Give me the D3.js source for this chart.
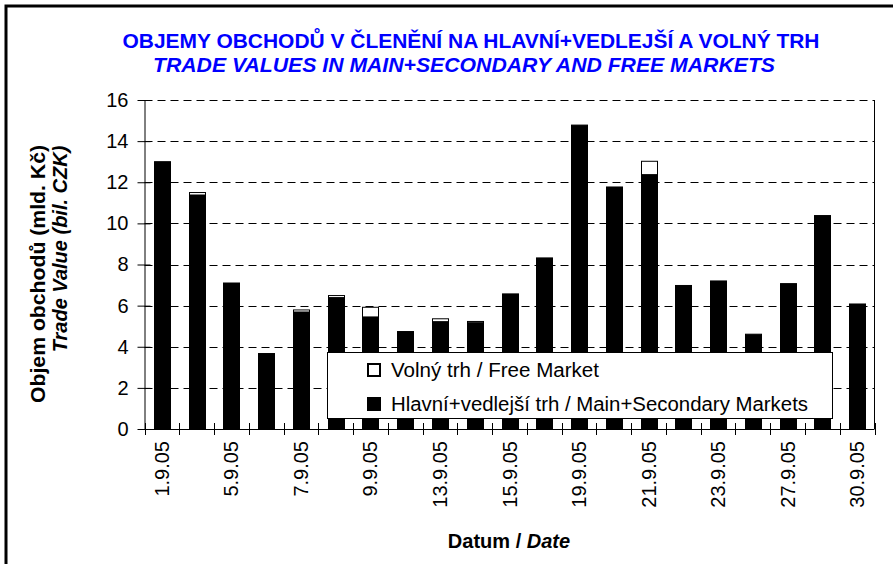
<!DOCTYPE html>
<html><head><meta charset="utf-8">
<script src="https://cdn.jsdelivr.net/npm/d3@7"></script>
<style>body{margin:0;background:#fff}svg{display:block;font-family:Arial,"Liberation Sans",sans-serif}</style>
</head><body><svg id="c" width="893" height="564"></svg>
<script>
const dates = ["1.9.05","2.9.05","5.9.05","6.9.05","7.9.05","8.9.05","9.9.05","12.9.05","13.9.05","14.9.05","15.9.05","16.9.05","19.9.05","20.9.05","21.9.05","22.9.05","23.9.05","26.9.05","27.9.05","29.9.05","30.9.05"];
const mainMarket = [13.0,11.38,7.1,3.67,5.69,6.39,5.45,4.74,5.22,5.17,6.57,8.32,14.78,11.77,12.37,6.98,7.2,4.61,7.07,10.38,6.04];
const freeMarket = [0,0.12,0,0,0.1,0.1,0.47,0,0.14,0.06,0,0,0,0,0.65,0,0,0,0,0,0.04];
const yTicks = [0,2,4,6,8,10,12,14,16];
const shownLabels = ["1.9.05","5.9.05","7.9.05","9.9.05","13.9.05","15.9.05","19.9.05","21.9.05","23.9.05","27.9.05","30.9.05"];
const seriesNames = ["Volný trh / Free Market","Hlavní+vedlejší trh / Main+Secondary Markets"];

const svg = d3.select("#c");
svg.append("rect").attr("x",6).attr("y",6).attr("width",1000).attr("height",1000)
  .attr("fill","#fff").attr("stroke","#000").attr("stroke-width",3);

const L=144.5, R=874.5, T=100, B=429;
const x = d3.scaleBand().domain(dates).range([L,R]).paddingInner(0.54).paddingOuter(0.27);
const y = d3.scaleLinear().domain([0,16]).range([B,T]);

// grid
svg.append("g").selectAll("line").data(yTicks.filter(d=>d>0)).join("line")
  .attr("x1",L).attr("x2",R).attr("y1",d=>Math.round(y(d))+0.5).attr("y2",d=>Math.round(y(d))+0.5)
  .attr("stroke","#000").attr("stroke-dasharray","8,5").attr("stroke-width",1);

// bars
const g = svg.append("g");
dates.forEach((d,i)=>{
  const x0 = Math.round(x(d))+0.5, w = Math.round(x.bandwidth());
  g.append("rect").attr("x",x0).attr("y",y(mainMarket[i])).attr("width",w)
   .attr("height",y(0)-y(mainMarket[i])).attr("fill","#000").attr("stroke","#000");
  if(freeMarket[i]>0){
    const top = y(mainMarket[i]+freeMarket[i]);
    g.append("rect").attr("x",x0).attr("y",top).attr("width",w)
     .attr("height",y(mainMarket[i])-top).attr("fill","#fff").attr("stroke","#000");
  }
});

// right border
svg.append("line").attr("x1",R).attr("x2",R).attr("y1",T).attr("y2",B).attr("stroke","#000");

// y axis
const ya = svg.append("g").attr("transform",`translate(${L},0)`)
  .call(d3.axisLeft(y).tickValues(yTicks).tickSize(7).tickSizeOuter(0).tickPadding(9));
ya.select(".domain").attr("stroke","#000");
ya.selectAll(".tick line").attr("x2",-7).attr("x1",6).attr("stroke","#000");
ya.selectAll(".tick text").attr("font-size",20).attr("font-family","Arial,'Liberation Sans',sans-serif").attr("fill","#000");

// x axis
const xa = svg.append("g").attr("transform",`translate(0,${B})`);
xa.append("line").attr("x1",L).attr("x2",R).attr("y1",0.5).attr("y2",0.5).attr("stroke","#000");
const step = x.step();
xa.selectAll("line.t").data(d3.range(dates.length+1)).join("line").attr("class","t")
  .attr("x1",i=>Math.round(L+i*step)+0.5).attr("x2",i=>Math.round(L+i*step)+0.5)
  .attr("y1",-6).attr("y2",6).attr("stroke","#000");
xa.selectAll("text").data(shownLabels).join("text")
  .attr("transform",d=>`translate(${x(d)+x.bandwidth()/2+7},12) rotate(-90)`)
  .attr("text-anchor","end").attr("font-size",20).text(d=>d);

// titles
svg.append("text").attr("x",471).attr("y",48).attr("text-anchor","middle").attr("font-size",20)
  .attr("font-weight","bold").attr("fill","#0000ff").attr("textLength",697).attr("lengthAdjust","spacingAndGlyphs")
  .text("OBJEMY OBCHODŮ V ČLENĚNÍ NA HLAVNÍ+VEDLEJŠÍ A VOLNÝ TRH");
svg.append("text").attr("x",464).attr("y",72).attr("text-anchor","middle").attr("font-size",20)
  .attr("font-weight","bold").attr("font-style","italic").attr("fill","#0000ff").attr("textLength",622).attr("lengthAdjust","spacingAndGlyphs")
  .text("TRADE VALUES IN MAIN+SECONDARY AND FREE MARKETS");

const xt = svg.append("text").attr("x",509).attr("y",548).attr("text-anchor","middle").attr("font-size",20).attr("font-weight","bold");
xt.append("tspan").text("Datum / ");
xt.append("tspan").attr("font-style","italic").text("Date");

svg.append("text").attr("transform","translate(45,274) rotate(-90)").attr("text-anchor","middle")
  .attr("font-size",20).attr("font-weight","bold").attr("textLength",258).attr("lengthAdjust","spacingAndGlyphs")
  .text("Objem obchodů (mld. Kč)");
svg.append("text").attr("transform","translate(67,249) rotate(-90)").attr("text-anchor","middle")
  .attr("font-size",20).attr("font-weight","bold").attr("font-style","italic").text("Trade Value (bil. CZK)");

// legend
const lg = svg.append("g");
lg.append("rect").attr("x",327.5).attr("y",352.5).attr("width",505).attr("height",66).attr("fill","#fff").attr("stroke","#000");
const legLen = [208,417];
[0,1].forEach(i=>{
  lg.append("rect").attr("x",368).attr("y",364+i*34).attr("width",12).attr("height",12)
    .attr("fill",i===0?"#fff":"#000").attr("stroke","#000").attr("stroke-width",2);
  lg.append("text").attr("x",391).attr("y",377+i*34).attr("font-size",20)
    .attr("textLength",legLen[i]).attr("lengthAdjust","spacingAndGlyphs").text(seriesNames[i]);
});
</script></body></html>
